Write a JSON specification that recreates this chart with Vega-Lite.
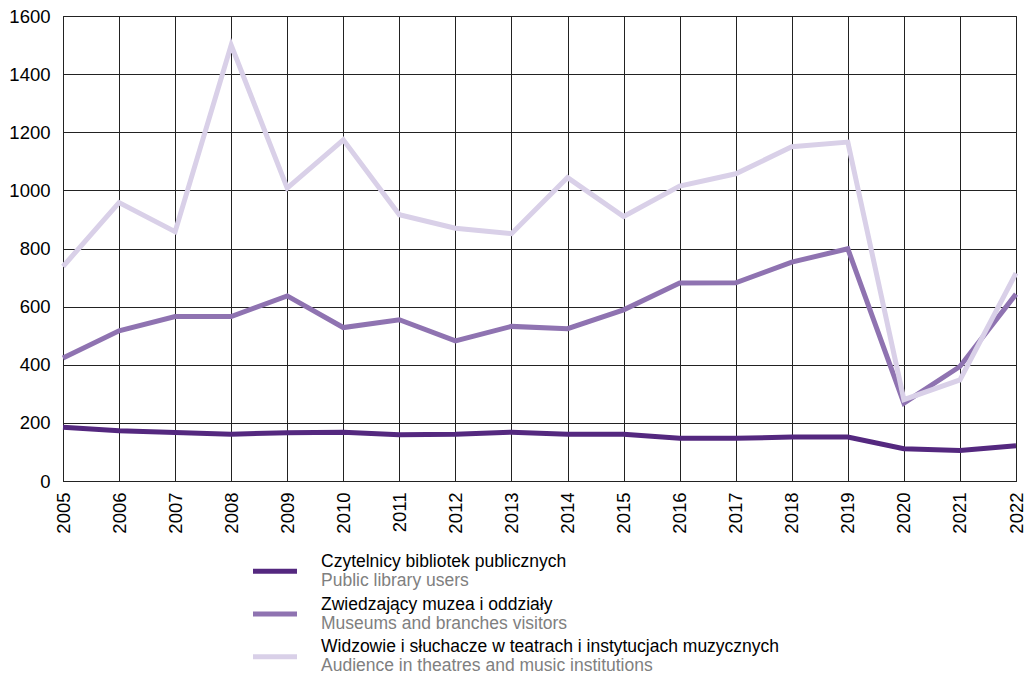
{
  "$schema": "https://vega.github.io/schema/vega-lite/v6.json",
  "padding": {"left": 8, "top": 6, "right": 5, "bottom": 0},
  "background": "white",
  "config": {
    "font": "Liberation Sans",
    "view": {"stroke": "#222", "strokeWidth": 1},
    "axis": {"labelFont": "Liberation Sans", "labelFontSize": 18.5, "labelColor": "#000", "gridColor": "#222", "gridOpacity": 1, "gridWidth": 1, "domainColor": "#222", "ticks": false}
  },
  "datasets": {
    "main": [
      {"year": 2005, "series": "lib", "value": 185},
      {"year": 2006, "series": "lib", "value": 173},
      {"year": 2007, "series": "lib", "value": 167},
      {"year": 2008, "series": "lib", "value": 161},
      {"year": 2009, "series": "lib", "value": 166},
      {"year": 2010, "series": "lib", "value": 168},
      {"year": 2011, "series": "lib", "value": 159},
      {"year": 2012, "series": "lib", "value": 161},
      {"year": 2013, "series": "lib", "value": 168},
      {"year": 2014, "series": "lib", "value": 161},
      {"year": 2015, "series": "lib", "value": 161},
      {"year": 2016, "series": "lib", "value": 147},
      {"year": 2017, "series": "lib", "value": 147},
      {"year": 2018, "series": "lib", "value": 151},
      {"year": 2019, "series": "lib", "value": 151},
      {"year": 2020, "series": "lib", "value": 111},
      {"year": 2021, "series": "lib", "value": 105},
      {"year": 2022, "series": "lib", "value": 121},
      {"year": 2005, "series": "mus", "value": 423},
      {"year": 2006, "series": "mus", "value": 517},
      {"year": 2007, "series": "mus", "value": 566},
      {"year": 2008, "series": "mus", "value": 566},
      {"year": 2009, "series": "mus", "value": 637},
      {"year": 2010, "series": "mus", "value": 528},
      {"year": 2011, "series": "mus", "value": 555},
      {"year": 2012, "series": "mus", "value": 482},
      {"year": 2013, "series": "mus", "value": 532},
      {"year": 2014, "series": "mus", "value": 524},
      {"year": 2015, "series": "mus", "value": 589},
      {"year": 2016, "series": "mus", "value": 681},
      {"year": 2017, "series": "mus", "value": 682},
      {"year": 2018, "series": "mus", "value": 753},
      {"year": 2019, "series": "mus", "value": 799},
      {"year": 2020, "series": "mus", "value": 268},
      {"year": 2021, "series": "mus", "value": 394},
      {"year": 2022, "series": "mus", "value": 643},
      {"year": 2005, "series": "thr", "value": 738},
      {"year": 2006, "series": "thr", "value": 958},
      {"year": 2007, "series": "thr", "value": 858},
      {"year": 2008, "series": "thr", "value": 1500},
      {"year": 2009, "series": "thr", "value": 1008},
      {"year": 2010, "series": "thr", "value": 1174},
      {"year": 2011, "series": "thr", "value": 916},
      {"year": 2012, "series": "thr", "value": 870},
      {"year": 2013, "series": "thr", "value": 851},
      {"year": 2014, "series": "thr", "value": 1044},
      {"year": 2015, "series": "thr", "value": 910},
      {"year": 2016, "series": "thr", "value": 1015},
      {"year": 2017, "series": "thr", "value": 1057},
      {"year": 2018, "series": "thr", "value": 1150},
      {"year": 2019, "series": "thr", "value": 1166},
      {"year": 2020, "series": "thr", "value": 280},
      {"year": 2021, "series": "thr", "value": 348},
      {"year": 2022, "series": "thr", "value": 715}
    ],
    "legend": [
      {"series": "lib", "pl": "Czytelnicy bibliotek publicznych", "en": "Public library users"},
      {"series": "mus", "pl": "Zwiedzający muzea i oddziały", "en": "Museums and branches visitors"},
      {"series": "thr", "pl": "Widzowie i słuchacze w teatrach i instytucjach muzycznych", "en": "Audience in theatres and music institutions"}
    ]
  },
  "spacing": 16,
  "vconcat": [
    {
      "width": 953,
      "height": 465,
      "data": {"name": "main"},
      "mark": {"type": "line", "strokeWidth": 5},
      "encoding": {
        "x": {"field": "year", "type": "quantitative", "title": null,
              "scale": {"domain": [2005, 2022], "nice": false, "zero": false},
              "axis": {"values": [2005,2006,2007,2008,2009,2010,2011,2012,2013,2014,2015,2016,2017,2018,2019,2020,2021,2022], "format": "d", "labelAngle": 270, "labelPadding": 11, "labelAlign": "right", "labelBaseline": "middle", "labelFlush": false, "labelOverlap": false}},
        "y": {"field": "value", "type": "quantitative", "title": null,
              "scale": {"domain": [0, 1600], "nice": false},
              "axis": {"values": [0,200,400,600,800,1000,1200,1400,1600], "format": "d", "labelPadding": 13, "labelFlush": false}},
        "color": {"field": "series", "type": "nominal", "legend": null,
                  "scale": {"domain": ["lib", "mus", "thr"], "range": ["#54287f", "#8f73b1", "#d9d0e8"]}},
        "order": {"field": "year"}
      }
    },
    {
      "width": 424,
      "height": 128,
      "view": {"stroke": null},
      "data": {"name": "legend"},
      "encoding": {
        "y": {"field": "series", "type": "ordinal", "axis": null, "scale": {"domain": ["lib", "mus", "thr"]}}
      },
      "layer": [
        {
          "mark": {"type": "point", "shape": "M-1,-0.114H1V0.114H-1Z", "size": 1936, "filled": true, "opacity": 1, "strokeWidth": 0},
          "encoding": {
            "color": {"field": "series", "type": "nominal", "legend": null,
                      "scale": {"domain": ["lib", "mus", "thr"], "range": ["#54287f", "#8f73b1", "#d9d0e8"]}}
          }
        },
        {
          "mark": {"type": "text", "align": "left", "baseline": "middle", "dx": 46, "dy": -9.5, "fontSize": 17.5, "color": "#000"},
          "encoding": {"text": {"field": "pl"}}
        },
        {
          "mark": {"type": "text", "align": "left", "baseline": "middle", "dx": 46, "dy": 9.5, "fontSize": 17.5, "color": "#808080"},
          "encoding": {"text": {"field": "en"}}
        }
      ]
    }
  ]
}
